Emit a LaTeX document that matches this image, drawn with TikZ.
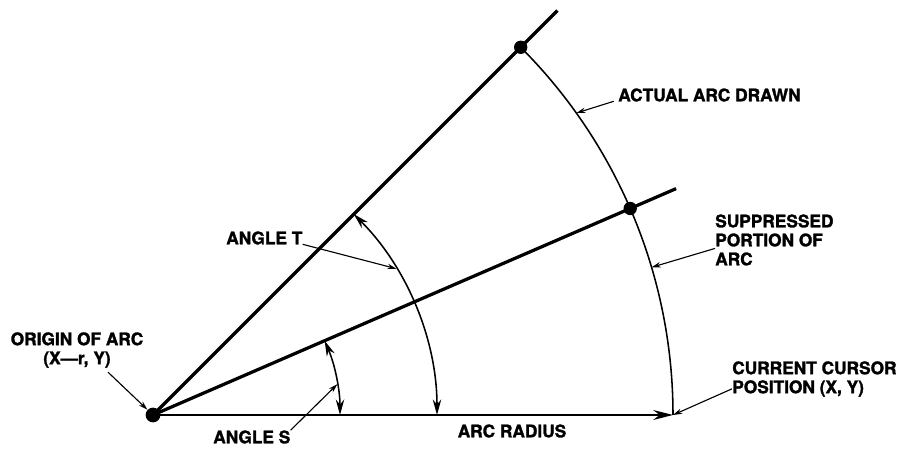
\documentclass[tikz,border=0pt]{standalone}
\usepackage{fontspec}
\setmainfont{TeX Gyre Heros}[BoldFeatures={FakeBold=1.6}]
\usetikzlibrary{calc,positioning,arrows.meta}

\begin{document}
\begin{tikzpicture}[x=0.025cm, y=0.025cm, >=Stealth,
    font=\bfseries\fontsize{12.3}{13.5}\selectfont,
    heavy/.style={line width=2.3pt},
    arcline/.style={line width=1.1pt},
    angarrow/.style={arcline, {Stealth[length=11pt,width=6pt]}-{Stealth[length=11pt,width=6pt]}},
    callout/.style={-{Stealth[length=6.5pt,width=3.8pt]}, line width=0.8pt},
    dot/.style={circle, fill=black, inner sep=0pt, minimum size=9.5pt},
    lbl/.style={align=left, inner sep=0pt}]
  \useasboundingbox (0,0) rectangle (904,451);
  \coordinate (O) at (153,36);
  \coordinate (cur) at ($(O)+(520,0)$);
  \coordinate (endT) at ($(O)+(45:572)$);
  \coordinate (endS) at ($(O)+(23.4:570)$);
  \coordinate (onArcA) at ($(O)+(35.5:520)$);
  \coordinate (onArcB) at ($(O)+(16.5:520)$);
  \coordinate (onT) at ($(O)+(31:284)$);
  \coordinate (onS) at ($(O)+(9.5:187)$);
  \draw[heavy] (O) -- (endT);
  \draw[heavy] (O) -- (endS);
  \draw[line width=1.6pt, -{Stealth[length=14pt,width=7pt]}] (O) -- (cur);
  \draw[arcline] ($(O)+(45:520)$) arc[start angle=45, end angle=0, radius=520];
  \draw[angarrow] ($(O)+(45:284)$) arc[start angle=45, end angle=0, radius=284];
  \draw[angarrow] ($(O)+(23.4:187)$) arc[start angle=23.4, end angle=0, radius=187];
  \node[dot, minimum size=10.5pt] (dotO) at (O) {};
  \node[dot] (dotT) at ($(O)+(45:520)$) {};
  \node[dot] (dotS) at ($(O)+(23.4:520)$) {};
  \node[lbl, anchor=west] (actual) at (618,356) {ACTUAL ARC DRAWN};
  \node[lbl, anchor=west] (suppr) at (715,211) {SUPPRESSED\\PORTION OF\\ARC};
  \node[lbl, anchor=west] (cursor) at (732,72) {CURRENT CURSOR\\POSITION (X, Y)};
  \node[lbl, align=center] (origin) at (77,101) {ORIGIN OF ARC\\(X\textemdash r, Y)};
  \node[lbl, anchor=west] (angT) at (226,213) {ANGLE T};
  \node[lbl, anchor=west] (angS) at (213,14) {ANGLE S};
  \node[lbl] (radius) at (512,20) {ARC RADIUS};
  \draw[callout] ([xshift=-3pt]actual.base west) -- (onArcA);
  \draw[callout] ([yshift=-6pt]suppr.west) -- (onArcB);
  \draw[callout] ([yshift=-7pt]cursor.west) -- (cur);
  \draw[callout] ([xshift=22pt,yshift=-3pt]origin.south) -- (dotO);
  \draw[callout] (angT.base east) -- (onT);
  \draw[callout] (angS.north east) -- (onS);
\end{tikzpicture}
\end{document}
